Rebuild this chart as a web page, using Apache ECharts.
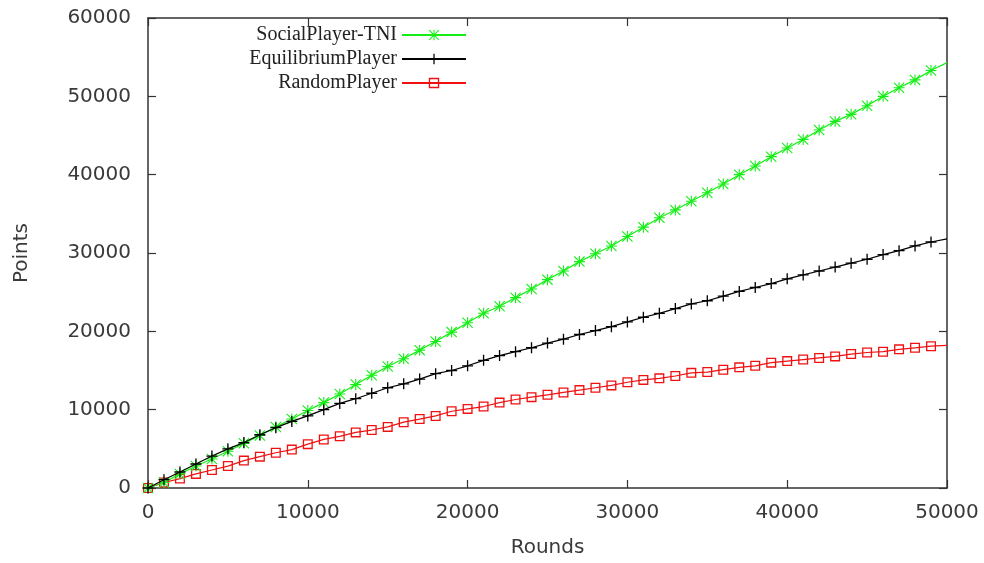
<!DOCTYPE html>
<html>
<head>
<meta charset="utf-8">
<script src="https://cdn.jsdelivr.net/npm/echarts@6/dist/echarts.min.js"></script>
<style>
  html, body { margin: 0; padding: 0; background: #fff; }
  #chart { width: 984px; height: 563px; }
</style>
</head>
<body>
<div id="chart"></div>
<script>
// Rounds at which each player's cumulative points were sampled
const rounds = [
  0, 1000, 2000, 3000, 4000, 5000, 6000, 7000, 8000, 9000,
  10000, 11000, 12000, 13000, 14000, 15000, 16000, 17000, 18000, 19000,
  20000, 21000, 22000, 23000, 24000, 25000, 26000, 27000, 28000, 29000,
  30000, 31000, 32000, 33000, 34000, 35000, 36000, 37000, 38000, 39000,
  40000, 41000, 42000, 43000, 44000, 45000, 46000, 47000, 48000, 49000,
  50000
];

const socialPlayerTNI = [
  0, 700, 1800, 2800, 3700, 4700, 5700, 6700, 7800, 8800,
  9900, 10900, 12000, 13200, 14400, 15500, 16500, 17600, 18700, 19900,
  21100, 22300, 23200, 24300, 25400, 26600, 27700, 28900, 29900, 30900,
  32100, 33300, 34500, 35500, 36600, 37700, 38800, 40000, 41100, 42300,
  43400, 44500, 45700, 46800, 47700, 48800, 50000, 51100, 52100, 53300,
  54300
];

const equilibriumPlayer = [
  0, 1060, 2040, 3060, 4080, 5000, 5800, 6800, 7700, 8500,
  9200, 10000, 10800, 11400, 12100, 12800, 13300, 13900, 14600, 15000,
  15600, 16300, 16900, 17400, 17900, 18500, 19000, 19600, 20100, 20600,
  21200, 21800, 22300, 22900, 23500, 23900, 24500, 25100, 25600, 26100,
  26700, 27200, 27700, 28200, 28700, 29200, 29800, 30300, 30900, 31400,
  31800
];

const randomPlayer = [
  0, 700, 1200, 1800, 2300, 2800, 3500, 4000, 4500, 4900,
  5600, 6200, 6600, 7100, 7400, 7800, 8400, 8800, 9200, 9800,
  10100, 10400, 10900, 11300, 11600, 11900, 12200, 12500, 12800, 13100,
  13500, 13800, 14000, 14300, 14700, 14800, 15100, 15400, 15600, 16000,
  16200, 16400, 16600, 16800, 17100, 17300, 17400, 17700, 17900, 18100,
  18200
];

const seriesNames = ['SocialPlayer-TNI', 'EquilibriumPlayer', 'RandomPlayer'];

// Point shapes: asterisk, plus, open square
const STAR = 'path://M4.5,0H5.5V10H4.5Z M0,4.5H10V5.5H0Z M0.7,0L10,9.3L9.3,10L0,0.7Z M9.3,0L10,0.7L0.7,10L0,9.3Z';
const PLUS = 'path://M4.4,0H5.6V10H4.4Z M0,4.4H10V5.6H0Z';
const SQUARE = 'path://M0,0H10V10H0Z M1.3,1.3V8.7H8.7V1.3Z';

function pairs(ys) {
  return rounds.map((x, i) => {
    // the final sample sits on the frame; only the line reaches it
    if (i === rounds.length - 1) return { value: [x, ys[i]], symbol: 'none' };
    return [x, ys[i]];
  });
}

const chart = echarts.init(document.getElementById('chart'), null, { renderer: 'canvas' });

const labelFont = { fontFamily: 'DejaVu Sans', fontSize: 20, color: '#3a3a3a' };
const plain = v => String(v);

function frame() {
  return { show: true, onZero: false, lineStyle: { color: '#333', width: 1.5 } };
}
function innerTick() {
  return { show: true, inside: true, length: 8, lineStyle: { color: '#333', width: 1.2 } };
}

function legendRow(name, top) {
  return {
    data: [name],
    right: 517,
    top: top,
    orient: 'vertical',
    align: 'right',
    itemWidth: 64,
    itemHeight: 13,
    selectedMode: false,
    padding: 0,
    textStyle: { fontFamily: 'Liberation Serif', fontSize: 20, color: '#222' }
  };
}

chart.setOption({
  animation: false,
  backgroundColor: '#fff',
  grid: { left: 148, right: 37, top: 18, bottom: 75 },
  legend: [
    legendRow(seriesNames[0], 25),
    legendRow(seriesNames[1], 49),
    legendRow(seriesNames[2], 73)
  ],
  xAxis: [
    {
      type: 'value', min: 0, max: 50000, interval: 10000, position: 'bottom',
      name: 'Rounds', nameLocation: 'middle', nameGap: 50,
      nameTextStyle: labelFont,
      axisLine: frame(), axisTick: innerTick(),
      axisLabel: Object.assign({ margin: 15, formatter: plain }, labelFont),
      splitLine: { show: false }
    },
    {
      type: 'value', min: 0, max: 50000, interval: 10000, position: 'top',
      axisLine: frame(), axisTick: innerTick(),
      axisLabel: { show: false }, splitLine: { show: false }
    }
  ],
  yAxis: [
    {
      type: 'value', min: 0, max: 60000, interval: 10000, position: 'left',
      name: 'Points', nameLocation: 'middle', nameGap: 116, nameRotate: 90,
      nameTextStyle: labelFont,
      axisLine: frame(), axisTick: innerTick(),
      axisLabel: Object.assign({ margin: 17, formatter: plain }, labelFont),
      splitLine: { show: false }
    },
    {
      type: 'value', min: 0, max: 60000, interval: 10000, position: 'right',
      axisLine: frame(), axisTick: innerTick(),
      axisLabel: { show: false }, splitLine: { show: false }
    }
  ],
  series: [
    {
      name: seriesNames[0], type: 'line', data: pairs(socialPlayerTNI),
      symbol: STAR, symbolSize: 11, showAllSymbol: true,
      lineStyle: { color: '#14ee14', width: 1.2 },
      itemStyle: { color: '#14ee14', borderWidth: 0 },
      z: 3
    },
    {
      name: seriesNames[1], type: 'line', data: pairs(equilibriumPlayer),
      symbol: PLUS, symbolSize: 11, showAllSymbol: true,
      lineStyle: { color: '#000', width: 1.2 },
      itemStyle: { color: '#000', borderWidth: 0 },
      z: 4
    },
    {
      name: seriesNames[2], type: 'line', data: pairs(randomPlayer),
      symbol: SQUARE, symbolSize: 10, showAllSymbol: true,
      lineStyle: { color: '#f01010', width: 1.2 },
      itemStyle: { color: '#f01010', borderWidth: 0 },
      z: 2
    },
    {
      // empty series that keeps the mirrored top/right frame axes alive
      type: 'line', xAxisIndex: 1, yAxisIndex: 1, data: [], silent: true
    }
  ]
});
</script>
</body>
</html>
